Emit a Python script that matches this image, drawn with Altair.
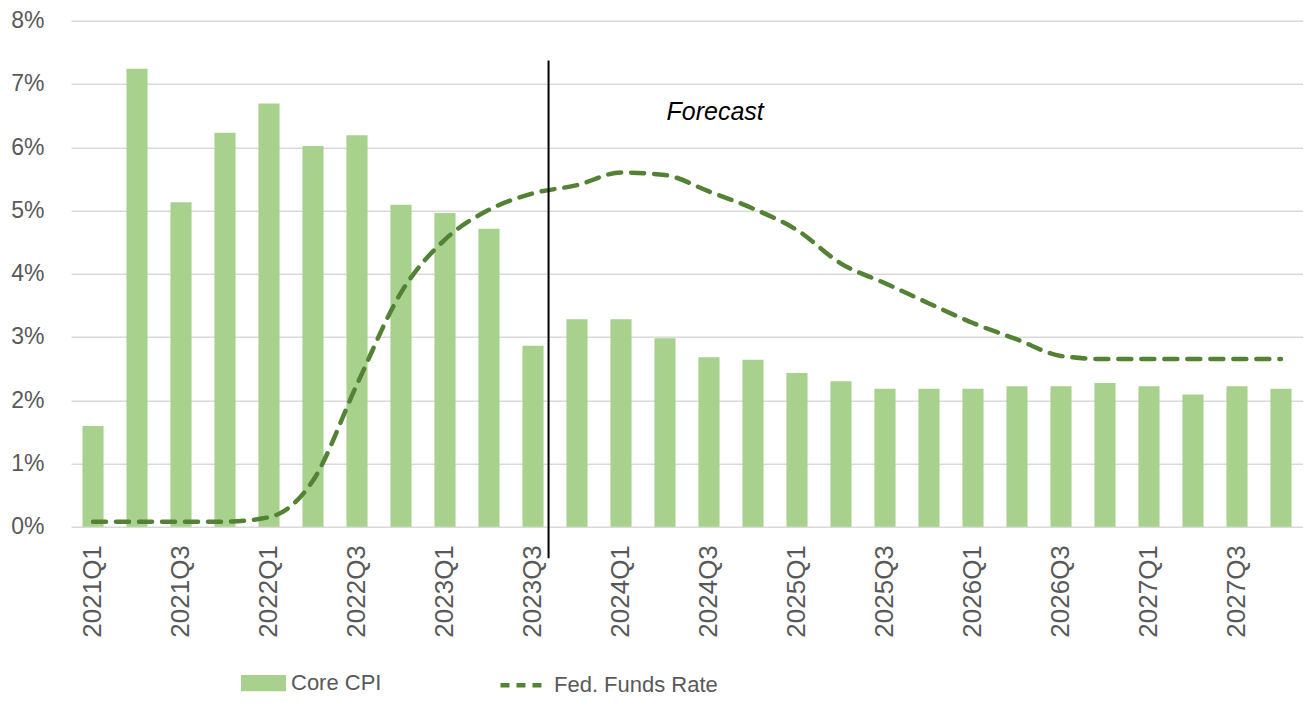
import altair as alt
import pandas as pd

quarters = [f"{y}Q{q}" for y in range(2021, 2028) for q in range(1, 5)]
core_cpi = [1.59, 7.24, 5.13, 6.23, 6.69, 6.02, 6.19, 5.09, 4.96, 4.71, 2.86, 3.28, 3.28, 2.98,
            2.68, 2.64, 2.43, 2.30, 2.18, 2.18, 2.18, 2.22, 2.22, 2.27, 2.22, 2.09, 2.22, 2.18]
fed_funds = [0.08, 0.08, 0.08, 0.08, 0.15, 0.73, 2.25, 3.70, 4.54, 5.01, 5.27, 5.40, 5.60, 5.56,
             5.30, 5.03, 4.69, 4.16, 3.85, 3.53, 3.22, 2.96, 2.70, 2.65, 2.65, 2.65, 2.65, 2.65]
y_ticks = [0, 1, 2, 3, 4, 5, 6, 7, 8]
x_label_values = quarters[::2]

forecast_start = "2023Q3"
forecast_label = "Forecast"
forecast_label_at = "2024Q3"
forecast_label_y = 6.56
rule_top, rule_bottom = 7.37, -0.5

df = pd.DataFrame({"q": quarters, "cpi": core_cpi, "ffr": fed_funds,
                   "s1": "Core CPI", "s2": "Fed. Funds Rate"})
ann_rule = pd.DataFrame({"q": [forecast_start], "y": [rule_top], "y2": [rule_bottom]})
ann_text = pd.DataFrame({"q": [forecast_label_at], "y": [forecast_label_y], "t": [forecast_label]})

GREY = "#595959"
BAR = "#A9D18E"
LINE = "#548235"
FONT = "Liberation Sans"

xscale = alt.Scale(domain=quarters, paddingInner=0.52, paddingOuter=0.26)
yscale = alt.Scale(domain=[0, 8], nice=False)

x_enc = alt.X("q:N", scale=xscale, sort=quarters, title=None,
              axis=alt.Axis(values=x_label_values, labelAngle=-90, labelFontSize=26,
                            labelColor=GREY, labelFont=FONT, labelPadding=18,
                            ticks=False, domain=False, grid=False))
y_enc = alt.Y("cpi:Q", scale=yscale, title=None,
              axis=alt.Axis(values=y_ticks, labelExpr="datum.value + '%'", labelFontSize=23,
                            labelColor=GREY, labelFont=FONT, labelPadding=27,
                            ticks=False, domain=False, grid=True, gridColor="#D9D9D9",
                            gridWidth=1.5))

bars = alt.Chart(df).mark_bar(fill=BAR).encode(
    x=x_enc,
    y=y_enc,
    color=alt.Color("s1:N", scale=alt.Scale(domain=["Core CPI"], range=[BAR]),
                    legend=alt.Legend(title=None, orient="none", legendX=170, legendY=640,
                                      symbolType="M-1,-0.36H1V0.36H-1Z", symbolSize=2025,
                                      symbolStrokeWidth=0, labelFontSize=22, labelFont=FONT,
                                      labelColor=GREY, labelOffset=5, padding=0,
                                      labelLimit=400)),
)

line = alt.Chart(df).mark_line(strokeWidth=4.5, strokeDash=[13, 10], strokeCap="round",
                               interpolate="monotone").encode(
    x=alt.X("q:N", scale=xscale, sort=quarters),
    y=alt.Y("ffr:Q", scale=yscale),
    stroke=alt.Stroke("s2:N", scale=alt.Scale(domain=["Fed. Funds Rate"], range=[LINE]),
                      legend=alt.Legend(title=None, orient="none", legendX=427, legendY=641,
                                        symbolType="stroke", symbolSize=1764,
                                        symbolStrokeWidth=4.5, symbolDash=[9, 7],
                                        labelFontSize=22, labelFont=FONT,
                                        labelColor=GREY, labelOffset=9, padding=0,
                                        labelLimit=400)),
)

rule = alt.Chart(ann_rule).mark_rule(color="black", strokeWidth=2, xOffset=5).encode(
    x=alt.X("q:N", scale=xscale, sort=quarters, bandPosition=1),
    y=alt.Y("y:Q", scale=yscale),
    y2="y2:Q",
)

text = alt.Chart(ann_text).mark_text(fontStyle="italic", fontSize=25, font=FONT,
                                     color="black", baseline="middle", align="center").encode(
    x=alt.X("q:N", scale=xscale, sort=quarters, bandPosition=0.79),
    y=alt.Y("y:Q", scale=yscale),
    text="t:N",
)

chart = alt.layer(bars, line, rule, text).properties(
    width=1232, height=506,
    autosize=alt.AutoSizeParams(type="none"),
    padding={"left": 63, "top": 12.7, "right": 0, "bottom": 172},
).configure_view(stroke=None).resolve_scale(color="independent", stroke="independent")

chart.save("out.html", embed_options={"renderer": "svg", "actions": False})
